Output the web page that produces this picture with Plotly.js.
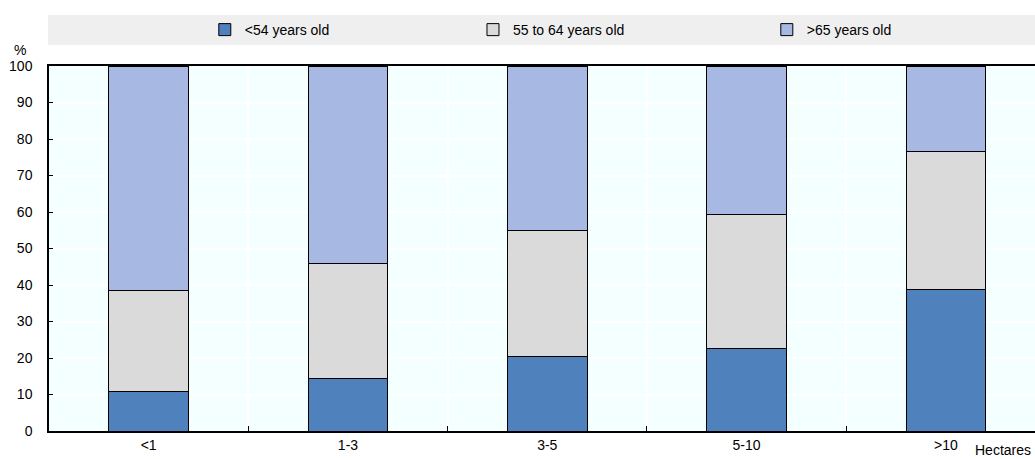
<!DOCTYPE html>
<html>
<head>
<meta charset="utf-8">
<script src="https://cdn.plot.ly/plotly-3.0.1.min.js"></script>
<style>html,body{margin:0;padding:0;background:#fff;}#chart{width:1035px;height:459px;}</style>
</head>
<body>
<div id="chart"></div>
<script>
const categories = ["<1", "1-3", "3-5", "5-10", ">10"];
const seriesNames = ["<54 years old", "55 to 64 years old", ">65 years old"];
const under54 = [10.8, 14.4, 20.4, 22.7, 38.9];
const from55to64 = [27.6, 31.4, 34.4, 36.6, 37.7];
const over65 = [61.6, 54.2, 45.2, 40.7, 23.4];
const yTicks = [0, 10, 20, 30, 40, 50, 60, 70, 80, 90, 100];

const colors = ["#4f81bd", "#dadada", "#a7b8e2"];
const seriesValues = [under54, from55to64, over65];
const FONT = "Liberation Sans Narrow, Arial Narrow, Liberation Sans, Arial, sans-serif";
const legendIds = ["legend", "legend2", "legend3"];
const legendX = [0.158, 0.43, 0.728];

const traces = seriesValues.map((vals, i) => ({
  type: "bar",
  name: seriesNames[i],
  x: categories,
  y: vals,
  width: 0.4,
  legend: legendIds[i],
  marker: {color: colors[i], line: {color: "#000000", width: 1}},
  hoverinfo: "x+y+name"
}));

const legendBase = {
  orientation: "h",
  yref: "paper", y: 1.0986, yanchor: "middle",
  xanchor: "left",
  bgcolor: "rgba(0,0,0,0)",
  font: {family: FONT, size: 14, color: "#000"},
  itemwidth: 30,
  itemclick: false, itemdoubleclick: false
};

const layout = {
  width: 1035, height: 459,
  margin: {l: 49, r: 0, t: 66, b: 28, pad: 0},
  paper_bgcolor: "#ffffff",
  plot_bgcolor: "#f4ffff",
  barmode: "stack",
  font: {family: FONT, size: 14, color: "#000"},
  showlegend: true,
  legend: Object.assign({}, legendBase, {x: legendX[0]}),
  legend2: Object.assign({}, legendBase, {x: legendX[1]}),
  legend3: Object.assign({}, legendBase, {x: legendX[2]}),
  xaxis: {
    type: "category",
    range: [-0.5, 4.447],
    tickson: "boundaries",
    ticks: "inside", ticklen: 5, tickcolor: "#000", tickwidth: 1,
    showgrid: true, gridcolor: "#ffffff", gridwidth: 2,
    showline: true, linecolor: "#000", linewidth: 1.5, mirror: true,
    tickfont: {family: FONT, size: 14, color: "#000"},
    fixedrange: true
  },
  yaxis: {
    range: [0, 100],
    tickvals: yTicks,
    ticktext: yTicks.map(String),
    ticks: "inside", ticklen: 4, tickcolor: "#000", tickwidth: 1,
    showgrid: true, gridcolor: "#ffffff", gridwidth: 2,
    zeroline: false,
    showline: true, linecolor: "#000", linewidth: 1.5,
    ticklabelstandoff: 12,
    tickfont: {family: FONT, size: 14, color: "#000"},
    fixedrange: true
  },
  shapes: [{
    type: "rect", xref: "paper", yref: "paper",
    x0: -0.001, x1: 1.02, y0: 1.0575, y1: 1.1397,
    fillcolor: "#efefef", line: {width: 0}, layer: "below"
  }],
  annotations: [
    {text: "%", xref: "paper", yref: "paper", x: -0.029, y: 1.0, xanchor: "center", yanchor: "bottom",
     yshift: 6, showarrow: false, font: {family: FONT, size: 14, color: "#000"}},
    {text: "Hectares", xref: "paper", yref: "paper", x: 0.998, y: 0, xanchor: "right", yanchor: "top",
     yshift: -9, showarrow: false, font: {family: FONT, size: 14, color: "#000"}}
  ]
};

Plotly.newPlot("chart", traces, layout, {displayModeBar: false, staticPlot: false});
</script>
</body>
</html>
